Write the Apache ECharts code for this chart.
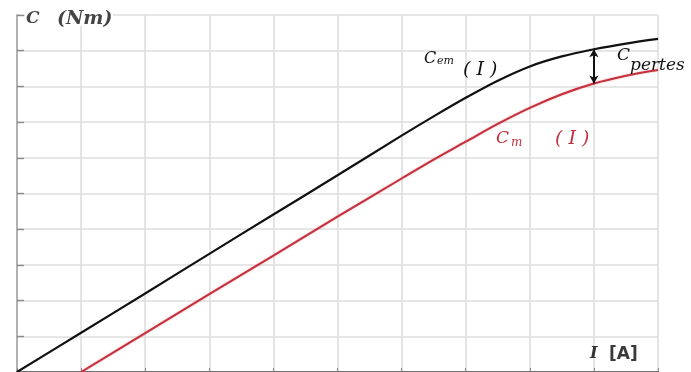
<!DOCTYPE html>
<html>
<head>
<meta charset="utf-8">
<script src="https://cdn.jsdelivr.net/npm/echarts@6/dist/echarts.min.js"></script>
<style>
  html, body { margin: 0; padding: 0; background: #fff; }
  #chart { width: 691px; height: 372px; }
</style>
</head>
<body>
<div id="chart"></div>
<script>
// Current I (grid units) and torque C (grid units)
const currentI = [0, 1, 2, 3, 4, 5, 6, 6.5, 7, 7.5, 8, 8.5, 9, 9.5, 10];
// Electromagnetic torque C_em(I)
const torqueEm = [0, 1.10, 2.20, 3.31, 4.41, 5.51, 6.62, 7.16, 7.68, 8.16, 8.56, 8.84, 9.04, 9.20, 9.33];
// Useful torque C_m(I): starts at I = 1
const currentIm = [1, 2, 3, 4, 5, 6, 6.5, 7, 7.5, 8, 8.5, 9, 9.5, 10];
const torqueM = [0, 1.09, 2.18, 3.26, 4.35, 5.42, 5.95, 6.45, 6.95, 7.40, 7.78, 8.08, 8.30, 8.46];
// Current at which the loss torque C_pertes is shown
const lossAt = 9;

const pairs = (xs, ys) => xs.map((x, i) => [x, ys[i]]);
const emAtLoss = torqueEm[currentI.indexOf(lossAt)];
const mAtLoss = torqueM[currentIm.indexOf(lossAt)];

const serif = '"DejaVu Serif", "Liberation Serif", serif';
const gridColor = '#dedede';
const red = '#c4303c';

const chart = echarts.init(document.getElementById('chart'), null, { renderer: 'canvas' });

const hidden = { show: false };

chart.setOption({
  animation: false,
  backgroundColor: '#ffffff',
  grid: { left: 17, right: 33, top: 15, bottom: 0 },
  xAxis: [
    {
      type: 'value', min: 0, max: 10, interval: 1, position: 'bottom',
      axisLine: { show: true, lineStyle: { color: '#bbb', width: 1 } },
      axisTick: { show: true, inside: true, length: 4, lineStyle: { color: '#888' } },
      axisLabel: hidden,
      splitLine: { show: true, lineStyle: { color: gridColor, width: 1.6 } }
    },
    {
      type: 'value', min: 0, max: 10, interval: 1, position: 'top',
      axisLine: { show: true, lineStyle: { color: '#4a4a4a', width: 1.6 } },
      axisTick: hidden,
      axisLabel: hidden,
      splitLine: hidden
    }
  ],
  yAxis: [
    {
      type: 'value', min: 0, max: 10, interval: 1, position: 'left',
      axisLine: { show: true, lineStyle: { color: '#c8c8c8', width: 1.6 } },
      axisTick: hidden,
      axisLabel: hidden,
      splitLine: { show: true, lineStyle: { color: gridColor, width: 1.6 } }
    },
    {
      type: 'value', min: 0, max: 10, interval: 1, position: 'right',
      axisLine: { show: true, lineStyle: { color: '#aaa', width: 1.6 } },
      axisTick: { show: true, length: 3, lineStyle: { color: '#bbb' } },
      axisLabel: hidden,
      splitLine: hidden
    },
    {
      // short dark ticks just inside the left frame
      type: 'value', min: 0, max: 10, interval: 1, position: 'left', offset: -7,
      axisLine: hidden,
      axisTick: { show: true, length: 7, lineStyle: { color: '#8a8a8a', width: 1.4 } },
      axisLabel: hidden,
      splitLine: hidden
    }
  ],
  series: [
    {
      name: 'C_em', type: 'line', data: pairs(currentI, torqueEm),
      smooth: 0.35, showSymbol: false, symbol: 'none',
      lineStyle: { color: '#111', width: 2.2 },
      z: 3,
      markLine: {
        silent: true, symbol: ['arrow', 'arrow'], symbolSize: [7, 8],
        lineStyle: { color: '#111', width: 2, type: 'solid' },
        label: hidden,
        data: [[{ coord: [lossAt, emAtLoss] }, { coord: [lossAt, mAtLoss] }]]
      }
    },
    {
      name: 'C_m', type: 'line', data: pairs(currentIm, torqueM),
      smooth: 0.35, showSymbol: false, symbol: 'none',
      lineStyle: { color: red, width: 2, shadowColor: 'rgba(230,120,130,0.6)', shadowBlur: 2 },
      z: 2
    }
  ],
  graphic: [
    // Y axis title, on a white patch over the frame
    { type: 'rect', left: 25, top: 6, shape: { width: 88, height: 20 }, style: { fill: '#fff' }, z: 10 },
    { type: 'text', left: 26, top: 10, z: 11, style: { text: 'C', font: 'italic bold 17px ' + serif, fill: '#444' } },
    { type: 'text', left: 57, top: 10, z: 11, style: { text: '(Nm)', font: 'italic bold 19px ' + serif, fill: '#444' } },
    // X axis title
    { type: 'text', left: 590, top: 346, z: 11, style: { text: 'I', font: 'italic bold 16px ' + serif, fill: '#333' } },
    { type: 'text', left: 609, top: 346, z: 11, style: { text: '[A]', font: 'bold 17px "DejaVu Sans", sans-serif', fill: '#3a3a3a' } },
    // C_em(I)
    { type: 'text', left: 424, top: 51, z: 11, style: { text: 'C', font: 'italic 16px ' + serif, fill: '#111' } },
    { type: 'text', left: 437, top: 56, z: 11, style: { text: 'em', font: 'italic 11px ' + serif, fill: '#111' } },
    { type: 'text', left: 463, top: 61, z: 11, style: { text: '( I )', font: 'italic 19px ' + serif, fill: '#111' } },
    // C_pertes
    { type: 'text', left: 617, top: 47, z: 11, style: { text: 'C', font: 'italic 17px ' + serif, fill: '#111' } },
    { type: 'text', left: 630, top: 57, z: 11, style: { text: 'pertes', font: 'italic 17px ' + serif, fill: '#111' } },
    // C_m (I)
    { type: 'text', left: 496, top: 130, z: 11, style: { text: 'C', font: 'italic 17px ' + serif, fill: red } },
    { type: 'text', left: 511, top: 137, z: 11, style: { text: 'm', font: 'italic 12px ' + serif, fill: red } },
    { type: 'text', left: 555, top: 130, z: 11, style: { text: '( I )', font: 'italic 19px ' + serif, fill: red } }
  ]
});
</script>
</body>
</html>
